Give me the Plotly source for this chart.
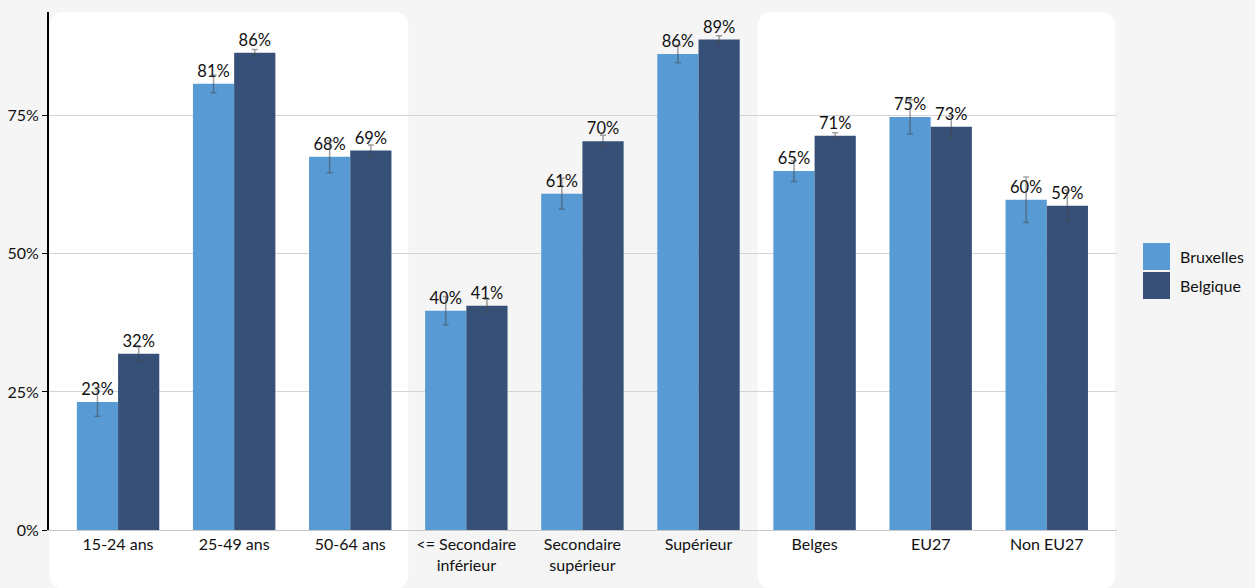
import plotly.graph_objects as go

categories = ["15-24 ans", "25-49 ans", "50-64 ans", "<= Secondaire<br>inférieur",
              "Secondaire<br>supérieur", "Supérieur", "Belges", "EU27", "Non EU27"]
bruxelles = [23.2, 80.8, 67.6, 39.7, 60.9, 86.2, 65.0, 74.8, 59.8]
bruxelles_err = [2.6, 1.6, 2.9, 2.6, 2.8, 1.6, 1.9, 3.1, 4.1]
belgique = [31.9, 86.4, 68.7, 40.6, 70.4, 88.8, 71.4, 73.0, 58.7]
belgique_err = [1.3, 0.6, 1.0, 1.2, 1.1, 0.7, 0.55, 1.9, 2.8]
series_names = ["Bruxelles", "Belgique"]
colors = ["#589AD4", "#365078"]
yticks = [0, 25, 50, 75]

W, H = 1255, 588
ML, MR, MT, MB = 49, 138, 12, 58
PW, PH = W - ML - MR, H - MT - MB
FONT = "Lato"

x = list(range(len(categories)))
fig = go.Figure()
for name, vals, errs, col in [(series_names[0], bruxelles, bruxelles_err, colors[0]),
                              (series_names[1], belgique, belgique_err, colors[1])]:
    fig.add_trace(go.Bar(
        x=x, y=vals, name=name, marker=dict(color=col, line=dict(width=0)),
        error_y=dict(type="data", array=errs, visible=True,
                     color="rgba(70,70,70,0.5)", thickness=1.5, width=3),
        text=[f"{round(v)}%" for v in vals], textposition="outside",
        textfont=dict(family=FONT, size=16.5, color="#111"),
        cliponaxis=False, showlegend=False,
    ))

# rounded white panels behind groups
xr = 15 / (PW / 9.2)
yr = 15 / PH
def panel(x0, x1, y0, y1):
    p = (f"M {x0+xr},{y1} L {x1-xr},{y1} Q {x1},{y1} {x1},{y1-yr} "
         f"L {x1},{y0+yr} Q {x1},{y0} {x1-xr},{y0} L {x0+xr},{y0} "
         f"Q {x0},{y0} {x0},{y0+yr} L {x0},{y1-yr} Q {x0},{y1} {x0+xr},{y1} Z")
    return dict(type="path", path=p, xref="x", yref="paper", fillcolor="white",
                line=dict(width=0), layer="below")

ybot = (530 - 589) / PH
shapes = [panel(-0.59, 2.5, ybot, 1.0), panel(5.51, 8.59, ybot, 1.0)]

# custom legend
def px2paper_x(px):
    return (px - ML) / PW
def px2paper_y(py):
    return (H - MB - py) / PH
annotations = []
for i, (name, col) in enumerate(zip(series_names, colors)):
    top = 243 + i * 29
    shapes.append(dict(type="rect", xref="paper", yref="paper",
                       x0=px2paper_x(1143), x1=px2paper_x(1170),
                       y0=px2paper_y(top + 27), y1=px2paper_y(top),
                       fillcolor=col, line=dict(width=0)))
    annotations.append(dict(text=name, xref="paper", yref="paper",
                            x=px2paper_x(1178), y=px2paper_y(top + 13.5),
                            xanchor="left", yanchor="middle", showarrow=False,
                            font=dict(family=FONT, size=16, color="#111")))

fig.update_layout(
    width=W, height=H, margin=dict(l=ML, r=MR, t=MT, b=MB, autoexpand=False),
    paper_bgcolor="#f5f5f5", plot_bgcolor="rgba(0,0,0,0)",
    barmode="group", bargap=0.29, bargroupgap=0,
    font=dict(family=FONT, size=16, color="#111"),
    shapes=shapes, annotations=annotations, showlegend=False,
    xaxis=dict(range=[-0.595, 8.605], tickmode="array", tickvals=x, ticktext=categories,
               showline=True, linecolor="#c8c8c8", linewidth=1, showgrid=False,
               zeroline=False, ticks="", automargin=False,
               tickfont=dict(size=16, color="#111")),
    yaxis=dict(range=[0, 93.8], tickmode="array", tickvals=yticks,
               ticktext=[f"{v}%" for v in yticks], showline=True, linecolor="black",
               linewidth=2, ticks="outside", ticklen=5, tickcolor="black",
               showgrid=True, gridcolor="#d4d4d4", gridwidth=1, zeroline=False,
               automargin=False, tickfont=dict(size=16, color="#111")),
)
fig.write_html("out.html", config={"displayModeBar": False},
               post_script="document.body.style.margin='0';document.body.style.padding='0';"
                           "document.body.style.background='#f5f5f5';")
